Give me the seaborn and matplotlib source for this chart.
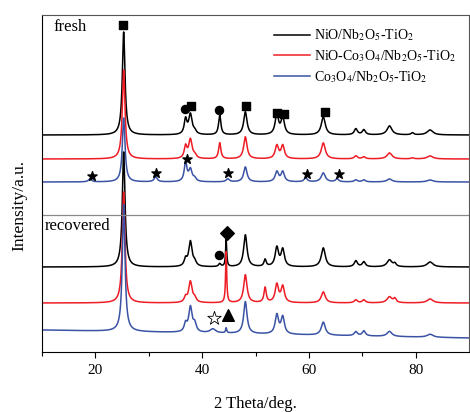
import numpy as np
import pandas as pd
import seaborn as sns
import matplotlib.pyplot as plt

# peak table (2theta in deg, FWHM in deg)
peak_pos = [19.0, 25.3, 31.3, 36.9, 37.8, 38.6, 42.0, 43.3, 44.5, 44.8, 48.1, 51.8,
            54.0, 55.1, 59.4, 62.7, 65.3, 68.8, 70.3, 75.1, 76.1, 79.4, 82.7]
peak_fwhm = [0.7, 0.6, 0.7, 0.6, 0.75, 0.7, 1.2, 0.5, 0.25, 0.7, 0.75, 0.5,
             0.75, 0.75, 0.7, 0.9, 0.7, 0.7, 0.7, 1.1, 0.6, 0.6, 1.3]

# peak heights per sample (offset units)
fresh_ni = [0, 103, 0, 15, 20, 3, 0, 20, 0, 0, 23, 0, 20, 17, 0, 18, 0, 6, 5, 9, 0, 2, 5]
fresh_nico = [0, 89, 0, 12, 19, 3, 0, 16, 0, 0, 22, 0, 13, 13, 0, 16, 0, 3, 2, 6, 0, 1, 3]
fresh_co = [3, 64, 5, 19, 12, 3, 0, 0, 0, 3, 15, 0, 10, 10, 4, 9, 3, 2, 2, 3, 0, 0, 2]
rec_ni = [0, 115, 0, 7, 25, 4, 0, 3, 27, 0, 32, 7, 19, 17, 0, 19, 0, 6, 5, 7, 3, 0, 5]
rec_nico = [0, 111, 0, 5, 21, 4, 0, 0, 51, 0, 28, 15, 18, 16, 0, 11, 0, 3, 3, 6, 4, 0, 4]
rec_co = [0, 127, 0, 8, 25, 8, 4, 0, 5, 0, 32, 0, 19, 17, 0, 13, 0, 4, 5, 5, 0, 0, 3]

# baseline offset at 10 deg and at 90 deg
base_left = [217, 193, 170, 85, 49, 22]
base_right = [217, 193, 170, 85, 49, 14]

series = ["NiO/Nb$_2$O$_5$-TiO$_2$", "NiO-Co$_3$O$_4$/Nb$_2$O$_5$-TiO$_2$",
          "Co$_3$O$_4$/Nb$_2$O$_5$-TiO$_2$"]
colors = ["black", "#ee1c24", "#3a53a4"]

# phase markers (x, y)
sq_x = [25.25, 37.9, 48.15, 54.0, 55.25, 62.95]
sq_y = [327, 246, 246, 239, 238, 240]
circ_x = [36.7, 43.25]
circ_y = [243, 242]
star_x = [19.3, 31.4, 37.2, 44.9, 59.7, 65.6]
star_y = [176, 179, 193, 179, 178, 178]

plt.rcParams['font.family'] = ['Liberation Serif', 'DejaVu Serif']
plt.rcParams['mathtext.fontset'] = 'stix'

fig = plt.figure(figsize=(4.7, 4.12), dpi=100)
ax = fig.add_axes([42 / 470, 60 / 412, 427 / 470, 337 / 412])

x = np.arange(10, 90.001, 0.02)
all_heights = [fresh_ni, fresh_nico, fresh_co, rec_ni, rec_nico, rec_co]
for i, h in enumerate(all_heights):
    y = np.interp(x, [10, 90], [base_left[i], base_right[i]])
    for p, w, a in zip(peak_pos, peak_fwhm, h):
        y = y + a / (1 + ((x - p) / (w / 2)) ** 2)
    df = pd.DataFrame({"x": x, "y": y})
    sns.lineplot(data=df, x="x", y="y", color=colors[i % 3], lw=1.1, ax=ax,
                 label=series[i] if i < 3 else None)

ax.axhline(137, color="#888888", lw=0.9)

ax.scatter(sq_x, sq_y, marker="s", s=26, color="black", zorder=5)
ax.scatter(circ_x, circ_y, marker="o", s=34, color="black", zorder=5)
ax.scatter(star_x, star_y, marker="*", s=48, color="black", zorder=5)
ax.scatter([44.6], [119], marker="D", s=48, color="black", zorder=5)
ax.scatter([43.25], [97], marker="o", s=34, color="black", zorder=5)
ax.scatter([42.2], [34], marker="*", s=105, facecolor="white", edgecolor="black",
           linewidth=0.6, zorder=5)
ax.scatter([44.8], [37], marker="^", s=70, color="black", zorder=5)

ax.text(12.1, 325, "fresh", fontsize=12, va="center")
ax.text(10.6, 126, "recovered", fontsize=12, va="center")

ax.set_xlim(10, 90)
ax.set_ylim(0, 337)
ax.set_xticks([20, 40, 60, 80])
ax.set_xticks([10, 30, 50, 70], minor=True)
ax.set_yticks([])
ax.tick_params(axis="x", which="major", length=4, width=0.8, labelsize=11, pad=5)
ax.tick_params(axis="x", which="minor", length=3, width=0.8)
ax.set_xlabel("2 Theta/deg.", fontsize=12, labelpad=13)
ax.set_ylabel("Intensity/a.u.", fontsize=12.5)
ax.yaxis.set_label_coords(-0.035, 0.436)
for s in ax.spines.values():
    s.set_linewidth(0.8)
ax.spines["top"].set_color("#555555")
ax.spines["right"].set_color("#555555")

ax.legend(loc="upper right", bbox_to_anchor=(1.0, 1.0), frameon=False, fontsize=10,
          handlelength=2.6, labelspacing=0.35, handletextpad=0.3)

fig.savefig("out.png", dpi=100)
